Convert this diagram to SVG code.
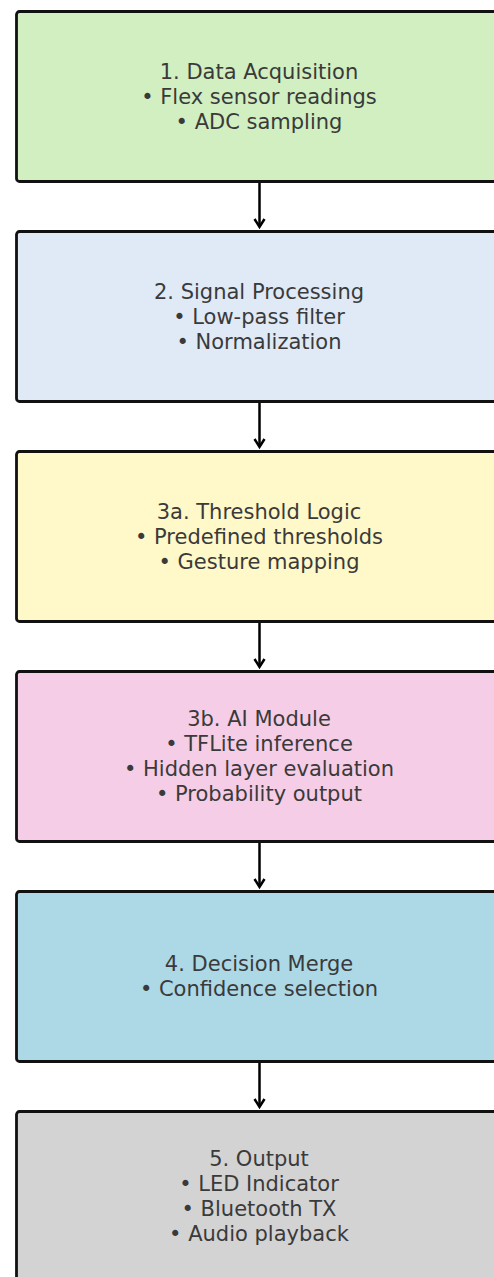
<svg xmlns="http://www.w3.org/2000/svg" width="494" height="1277" viewBox="0 0 494 1277">
  <style>
    .box { stroke: #111; stroke-width: 2.8; }
    .lbl { font-family: "DejaVu Sans", sans-serif; font-size: 21px; fill: #3a3a3a; text-anchor: middle; }
    .edge { stroke: #000; stroke-width: 2.5; fill: none; }
  </style>
  <defs>
    <marker id="arrow" viewBox="0 0 14 14" refX="11" refY="7" markerWidth="14" markerHeight="14" markerUnits="userSpaceOnUse" orient="auto">
      <path d="M3,2 L11,7 L3,12" fill="none" stroke="#000" stroke-width="2.5"/>
    </marker>
  </defs>
  <rect width="494" height="1277" fill="#fff"/>

  <g id="connectors">
    <line class="edge" x1="259.5" y1="183" x2="259.5" y2="227" marker-end="url(#arrow)"/>
    <line class="edge" x1="259.5" y1="403" x2="259.5" y2="447" marker-end="url(#arrow)"/>
    <line class="edge" x1="259.5" y1="623" x2="259.5" y2="667" marker-end="url(#arrow)"/>
    <line class="edge" x1="259.5" y1="843" x2="259.5" y2="887" marker-end="url(#arrow)"/>
    <line class="edge" x1="259.5" y1="1063" x2="259.5" y2="1107" marker-end="url(#arrow)"/>
  </g>

  <g id="node-acquisition">
    <rect class="box" x="16.5" y="11.5" width="486" height="170" rx="3" fill="#d1efc1"/>
    <text class="lbl" x="259" y="79">1. Data Acquisition</text>
    <text class="lbl" x="259" y="104">• Flex sensor readings</text>
    <text class="lbl" x="259" y="129">• ADC sampling</text>
  </g>

  <g id="node-processing">
    <rect class="box" x="16.5" y="231.5" width="486" height="170" rx="3" fill="#dfeaf6"/>
    <text class="lbl" x="259" y="299">2. Signal Processing</text>
    <text class="lbl" x="259" y="324">• Low-pass filter</text>
    <text class="lbl" x="259" y="349">• Normalization</text>
  </g>

  <g id="node-threshold">
    <rect class="box" x="16.5" y="451.5" width="486" height="170" rx="3" fill="#fff8c9"/>
    <text class="lbl" x="259" y="519">3a. Threshold Logic</text>
    <text class="lbl" x="259" y="544">• Predefined thresholds</text>
    <text class="lbl" x="259" y="569">• Gesture mapping</text>
  </g>

  <g id="node-ai">
    <rect class="box" x="16.5" y="671.5" width="486" height="170" rx="3" fill="#f6cde6"/>
    <text class="lbl" x="259" y="726">3b. AI Module</text>
    <text class="lbl" x="259" y="751">• TFLite inference</text>
    <text class="lbl" x="259" y="776">• Hidden layer evaluation</text>
    <text class="lbl" x="259" y="801">• Probability output</text>
  </g>

  <g id="node-merge">
    <rect class="box" x="16.5" y="891.5" width="486" height="170" rx="3" fill="#add8e6"/>
    <text class="lbl" x="259" y="971">4. Decision Merge</text>
    <text class="lbl" x="259" y="996">• Confidence selection</text>
  </g>

  <g id="node-output">
    <rect class="box" x="16.5" y="1111.5" width="486" height="170" rx="3" fill="#d3d3d3"/>
    <text class="lbl" x="259" y="1166">5. Output</text>
    <text class="lbl" x="259" y="1191">• LED Indicator</text>
    <text class="lbl" x="259" y="1216">• Bluetooth TX</text>
    <text class="lbl" x="259" y="1241">• Audio playback</text>
  </g>
</svg>
